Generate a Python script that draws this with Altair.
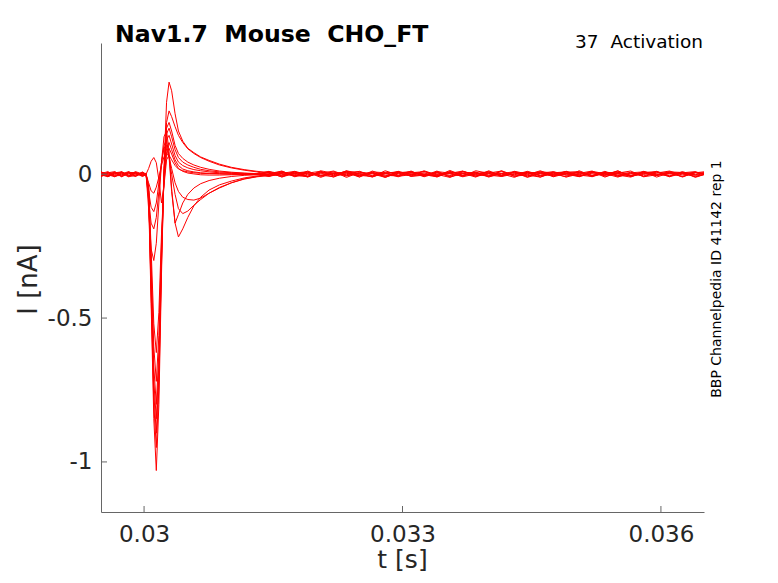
import altair as alt
import pandas as pd

# ---------------- data ----------------
t_pre = [0.02950, 0.02958, 0.02966, 0.02974, 0.02982, 0.02990, 0.02998]
t_step = [0.030023, 0.030053, 0.030082, 0.030113, 0.030142, 0.030172, 0.030202,
          0.030231, 0.030261, 0.030290, 0.030320, 0.030360, 0.030399, 0.030449,
          0.030508, 0.030578, 0.030657, 0.030755, 0.030875, 0.031013, 0.031162,
          0.031310]
t_tail = [0.03145, 0.03160, 0.03175, 0.03190, 0.03205, 0.03220, 0.03235, 0.03250,
          0.03265, 0.03280, 0.03295, 0.03310, 0.03325, 0.03340, 0.03355, 0.03370,
          0.03385, 0.03400, 0.03415, 0.03430, 0.03445, 0.03460, 0.03475, 0.03490,
          0.03505, 0.03520, 0.03535, 0.03550, 0.03565, 0.03580, 0.03595, 0.03610,
          0.03625, 0.03640, 0.03655]

pre_1 = [0.004, -0.006, 0.008, -0.002, 0.006, -0.008, 0.003]
pre_2 = [-0.005, 0.007, -0.003, 0.009, -0.006, 0.002, -0.004]
pre_3 = [0.008, -0.002, -0.009, 0.005, 0.001, 0.007, -0.006]
pre_4 = [-0.009, 0.003, 0.006, -0.007, 0.008, -0.001, 0.005]
pre_5 = [0.002, 0.009, -0.006, -0.004, 0.007, 0.004, -0.008]
pre_6 = [-0.003, -0.008, 0.005, 0.008, -0.005, 0.009, 0.001]
pre_7 = [0.007, 0.001, -0.007, 0.003, -0.009, -0.004, 0.006]
pre_8 = [-0.006, 0.005, 0.009, -0.008, 0.002, 0.006, -0.002]
pre_9 = [0.001, -0.009, 0.002, 0.006, -0.003, -0.007, 0.008]
pre_10 = [0.009, -0.004, 0.004, -0.009, 0.005, 0.003, -0.005]
pre_11 = [-0.002, 0.006, -0.008, 0.001, 0.009, -0.006, 0.004]
pre_12 = [0.005, -0.007, 0.001, 0.007, -0.008, 0.005, -0.001]

step_1 = [0.000, -0.08, -0.45, -0.85, -1.03, -0.80, -0.35, 0.02, 0.25, 0.32, 0.29,
          0.21, 0.15, 0.115, 0.09, 0.075, 0.06, 0.048, 0.035, 0.024, 0.016, 0.010]
step_2 = [0.002, -0.07, -0.42, -0.80, -0.95, -0.74, -0.32, 0.00, 0.18, 0.22, 0.20,
          0.165, 0.135, 0.11, 0.088, 0.072, 0.058, 0.045, 0.032, 0.022, 0.014, 0.008]
step_3 = [-0.003, -0.06, -0.40, -0.76, -0.90, -0.70, -0.30, 0.01, 0.16, 0.18, 0.15,
          0.10, 0.072, 0.055, 0.042, 0.032, 0.024, 0.017, 0.011, 0.007, 0.004, 0.002]
step_4 = [0.001, -0.06, -0.38, -0.72, -0.85, -0.66, -0.28, 0.00, 0.14, 0.16, 0.13,
          0.085, 0.058, 0.042, 0.032, 0.024, 0.017, 0.012, 0.008, 0.005, 0.003, 0.001]
step_5 = [-0.002, -0.05, -0.35, -0.67, -0.80, -0.62, -0.26, -0.01, 0.12, 0.135, 0.105,
          0.065, 0.042, 0.03, 0.022, 0.016, 0.012, 0.008, 0.005, 0.003, 0.001, 0.000]
step_6 = [0.003, -0.05, -0.31, -0.60, -0.72, -0.56, -0.24, -0.02, 0.09, 0.11, 0.085,
          0.05, 0.03, 0.018, 0.012, 0.008, 0.005, 0.003, 0.002, 0.001, 0.000, -0.001]
step_7 = [-0.001, -0.04, -0.26, -0.52, -0.62, -0.48, -0.21, -0.03, 0.07, 0.09, 0.07,
          0.04, 0.02, 0.01, 0.004, 0.001, -0.002, -0.003, -0.003, -0.002, -0.001, 0.000]
step_8 = [0.000, 0.02, 0.045, 0.058, 0.04, -0.02, -0.10, -0.04, 0.05, 0.066, 0.05,
          0.03, 0.018, 0.012, 0.008, 0.005, 0.003, 0.002, 0.001, 0.000, 0.000, 0.000]
step_9 = [0.000, -0.03, -0.058, -0.066, -0.045, -0.01, 0.03, 0.06, 0.075, 0.06, 0.02,
          -0.03, -0.06, -0.08, -0.088, -0.09, -0.083, -0.066, -0.048, -0.03, -0.016, -0.008]
step_10 = [0.000, -0.06, -0.115, -0.13, -0.10, -0.03, 0.04, 0.09, 0.10, 0.06, 0.00,
           -0.07, -0.12, -0.137, -0.128, -0.108, -0.088, -0.066, -0.046, -0.03, -0.017, -0.009]
step_11 = [0.000, -0.09, -0.17, -0.19, -0.15, -0.06, 0.04, 0.10, 0.12, 0.06, -0.06,
           -0.17, -0.14, -0.10, -0.07, -0.048, -0.033, -0.022, -0.014, -0.008, -0.004, -0.002]
step_12 = [0.000, -0.12, -0.26, -0.30, -0.24, -0.10, 0.04, 0.13, 0.15, 0.08, -0.05,
           -0.17, -0.218, -0.19, -0.15, -0.11, -0.08, -0.055, -0.037, -0.024, -0.013, -0.006]

tail_1 = [0.006, -0.004, 0.009, -0.007, 0.003, 0.011, -0.005, 0.002, -0.010, 0.007, 0.004, -0.006,
          0.012, -0.003, 0.005, -0.009, 0.001, 0.008, -0.004, 0.006, -0.011, 0.003, 0.009, -0.002,
          -0.007, 0.010, 0.002, -0.005, 0.007, -0.008, 0.004, 0.011, -0.003, 0.006, 0.002]
tail_2 = [-0.003, 0.008, -0.009, 0.004, 0.010, -0.006, 0.001, -0.004, 0.007, -0.011, 0.005, 0.009,
          -0.002, -0.008, 0.006, 0.003, -0.010, 0.012, -0.005, 0.002, 0.007, -0.006, -0.001, 0.010,
          -0.009, 0.004, 0.006, -0.003, -0.010, 0.008, 0.001, -0.007, 0.009, -0.004, 0.005]
tail_3 = [0.009, 0.002, -0.006, 0.011, -0.008, 0.004, -0.002, 0.010, -0.005, 0.003, -0.009, 0.007,
          0.001, -0.006, 0.013, -0.004, 0.006, -0.008, 0.002, 0.009, -0.003, -0.010, 0.005, 0.008,
          -0.006, 0.001, -0.004, 0.011, -0.007, 0.003, 0.007, -0.009, 0.004, -0.002, 0.008]
tail_4 = [-0.007, 0.005, 0.003, -0.010, 0.008, -0.002, 0.011, -0.006, 0.004, 0.001, 0.009, -0.008,
          -0.003, 0.007, -0.005, 0.010, -0.001, -0.007, 0.012, -0.004, 0.003, 0.008, -0.009, 0.002,
          0.006, -0.005, 0.010, -0.008, 0.001, 0.005, -0.003, 0.009, -0.010, 0.007, -0.004]
tail_5 = [0.004, -0.009, 0.007, 0.002, -0.005, 0.009, -0.011, 0.006, 0.003, -0.007, 0.010, -0.002,
          0.005, -0.010, 0.008, 0.001, -0.006, 0.004, 0.011, -0.008, 0.006, -0.003, 0.002, -0.009,
          0.012, -0.005, 0.003, 0.008, -0.004, -0.001, 0.010, -0.007, 0.005, 0.009, -0.006]
tail_6 = [-0.001, 0.010, -0.005, -0.008, 0.006, 0.002, 0.008, -0.009, 0.011, -0.004, -0.006, 0.005,
          0.009, -0.001, -0.011, 0.007, 0.004, -0.003, -0.008, 0.010, 0.001, 0.006, -0.007, 0.004,
          -0.002, 0.009, -0.010, 0.006, 0.003, -0.006, 0.008, 0.002, -0.008, 0.005, 0.010]
tail_7 = [0.010, -0.006, 0.002, 0.007, -0.011, 0.005, 0.003, -0.004, -0.008, 0.012, -0.003, 0.001,
          -0.007, 0.009, 0.004, -0.006, 0.008, -0.010, 0.003, -0.002, 0.010, -0.005, 0.006, 0.001,
          -0.008, 0.007, -0.003, 0.004, 0.011, -0.009, -0.002, 0.006, 0.001, -0.007, 0.003]
tail_8 = [-0.008, 0.003, 0.010, -0.002, 0.005, -0.010, 0.007, 0.009, -0.006, 0.002, -0.004, 0.011,
          -0.009, 0.004, 0.001, -0.007, 0.012, 0.003, -0.005, 0.008, -0.009, 0.004, -0.001, 0.007,
          0.009, -0.006, 0.002, -0.010, 0.005, 0.008, -0.004, 0.001, 0.007, -0.011, 0.004]
tail_9 = [0.002, 0.011, -0.007, 0.005, -0.003, -0.009, 0.010, -0.001, 0.006, -0.008, 0.003, 0.008,
          -0.005, 0.011, -0.010, 0.002, 0.005, -0.004, 0.009, -0.007, -0.002, 0.012, -0.006, 0.003,
          0.007, -0.009, 0.005, 0.001, -0.006, 0.010, -0.003, 0.004, -0.008, 0.006, -0.001]
tail_10 = [-0.005, -0.002, 0.008, -0.009, 0.012, 0.003, -0.006, 0.005, 0.001, -0.011, 0.007, 0.004,
           -0.003, -0.007, 0.010, -0.005, 0.002, 0.009, -0.008, 0.001, 0.005, -0.010, 0.008, -0.004,
           0.003, 0.011, -0.007, 0.002, -0.005, 0.006, 0.009, -0.006, 0.003, 0.000, 0.008]
tail_11 = [0.007, -0.010, 0.004, 0.009, -0.004, 0.001, 0.006, -0.010, 0.008, 0.005, -0.007, -0.002,
           0.010, -0.006, 0.003, 0.011, -0.008, 0.002, -0.003, 0.007, -0.006, 0.009, 0.004, -0.010,
           0.001, 0.006, -0.002, 0.012, -0.008, 0.003, -0.005, 0.008, 0.006, -0.009, 0.002]
tail_12 = [-0.004, 0.006, -0.001, -0.007, 0.009, -0.005, 0.012, 0.002, -0.009, 0.004, 0.008, -0.006,
           -0.001, 0.005, -0.008, 0.010, -0.004, 0.006, 0.001, -0.011, 0.008, 0.002, -0.005, 0.010,
           -0.003, -0.008, 0.007, 0.004, -0.006, 0.009, -0.010, 0.005, 0.002, 0.007, -0.005]

pres = [pre_1, pre_2, pre_3, pre_4, pre_5, pre_6, pre_7, pre_8, pre_9, pre_10, pre_11, pre_12]
steps = [step_1, step_2, step_3, step_4, step_5, step_6, step_7, step_8, step_9, step_10, step_11, step_12]
tails = [tail_1, tail_2, tail_3, tail_4, tail_5, tail_6, tail_7, tail_8, tail_9, tail_10, tail_11, tail_12]

x_ticks = [0.03, 0.033, 0.036]
y_ticks = [-1, -0.5, 0]

NB = "\u00a0"
title_text = "Nav1.7" + NB + NB + "Mouse" + NB + NB + "CHO_FT"
protocol_text = "37" + NB + NB + "Activation"
side_text = "BBP Channelpedia ID 41142 rep 1"

# ---------------- build table ----------------
times = t_pre + t_step + t_tail
rows = []
for k in range(len(steps)):
    vals = pres[k] + steps[k] + tails[k]
    for t, v in zip(times, vals):
        rows.append({"t": t, "I": v, "trace": k + 1})
df = pd.DataFrame(rows)

W, H = 603, 469
AX = "#666666"
TXT = "#262626"
FONT = "DejaVu Sans"

xs = alt.Scale(domain=[0.0295, 0.0365], nice=False, zero=False)
ys = alt.Scale(domain=[-1.174, 0.456], nice=False, zero=False)

x_axis = alt.Axis(
    values=x_ticks, labelExpr="toString(datum.value)", ticks=False, tickSize=0,
    labelPadding=11, labelFontSize=23, labelFont=FONT, labelColor=TXT,
    domainColor=AX, domainWidth=1, grid=False,
    title="t [s]", titleFont=FONT, titleFontSize=25, titleFontWeight="normal",
    titleColor=TXT, titleX=301, titleY=47, titleBaseline="middle", titleAlign="center")
y_axis = alt.Axis(
    values=y_ticks, labelExpr="toString(datum.value)", ticks=False, tickSize=0,
    labelPadding=9, labelFontSize=23, labelFont=FONT, labelColor=TXT,
    domainColor=AX, domainWidth=1, grid=False,
    title="I [nA]", titleFont=FONT, titleFontSize=26, titleFontWeight="normal",
    titleColor=TXT, titleX=-73, titleY=236, titleAngle=270,
    titleBaseline="middle", titleAlign="center")

lines = alt.Chart(df).mark_line(
    color="#ff0000", strokeWidth=1, interpolate="linear", clip=True
).encode(
    x=alt.X("t:Q", scale=xs, axis=x_axis),
    y=alt.Y("I:Q", scale=ys, axis=y_axis),
    detail="trace:N",
)

xtick = alt.Chart(pd.DataFrame({"t": x_ticks})).mark_rule(color=AX, strokeWidth=1).encode(
    x=alt.X("t:Q", scale=xs, axis=x_axis), y=alt.value(H), y2=alt.value(H - 6))
ytick = alt.Chart(pd.DataFrame({"I": y_ticks})).mark_rule(color=AX, strokeWidth=1).encode(
    y=alt.Y("I:Q", scale=ys, axis=y_axis), x=alt.value(0), x2=alt.value(6))

title = alt.Chart(pd.DataFrame({"s": [title_text]})).mark_text(
    font=FONT, fontSize=23.6, fontWeight="bold", color="#000000", align="left",
    baseline="alphabetic").encode(x=alt.value(14), y=alt.value(-1), text="s:N")
proto = alt.Chart(pd.DataFrame({"s": [protocol_text]})).mark_text(
    font=FONT, fontSize=18.5, color="#000000", align="right",
    baseline="alphabetic").encode(x=alt.value(602), y=alt.value(5), text="s:N")
side = alt.Chart(pd.DataFrame({"s": [side_text]})).mark_text(
    font=FONT, fontSize=14, color="#000000", align="center", baseline="middle",
    angle=270).encode(x=alt.value(616), y=alt.value(236), text="s:N")

chart = alt.layer(lines, xtick, ytick, title, proto, side).properties(
    width=W, height=H,
    padding={"left": 93, "top": 35, "right": 66, "bottom": 63},
    autosize=alt.AutoSizeParams(type="none"),
    background="#ffffff",
).configure_view(stroke=None)

chart.save("out.html", embed_options={"renderer": "svg", "actions": False})
